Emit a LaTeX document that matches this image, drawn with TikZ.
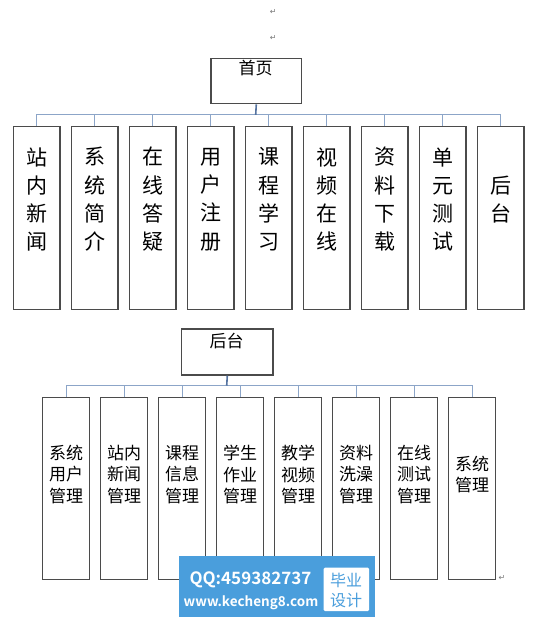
\documentclass[tikz,border=0pt]{standalone}
\usepackage{fontspec}
\newfontfamily\cjk{Noto Sans CJK SC}[BoldFont={Noto Sans CJK SC Bold}]
\newfontfamily\symf{DejaVu Sans}
\definecolor{boxc}{RGB}{75,75,75}
\definecolor{connc}{RGB}{140,165,200}
\definecolor{stubc}{RGB}{85,115,160}
\definecolor{wmblue}{RGB}{74,158,220}
\definecolor{markc}{RGB}{120,120,120}
\begin{document}
\begin{tikzpicture}[x=1pt,y=-1pt,
  headbox/.style={draw=boxc,line width=1.3pt,minimum width=90.7pt,minimum height=45.3pt,anchor=north west,inner sep=0pt},
  topbox/.style={draw=boxc,line width=1.3pt,minimum width=46.7pt,minimum height=182.6pt,anchor=north,inner sep=0pt},
  botbox/.style={draw=boxc,line width=1.3pt,minimum width=46.7pt,minimum height=182.3pt,anchor=north,inner sep=0pt},
  toptext/.style={align=center,inner sep=0pt,font=\cjk\fontsize{21}{28.3}\selectfont},
  bottext/.style={align=center,inner sep=0pt,font=\cjk\fontsize{17}{21.7}\selectfont},
  headtext/.style={inner sep=0pt,font=\cjk\fontsize{17}{20}\selectfont},
  conn/.style={draw=connc,line width=1pt},
  stub/.style={draw=stubc,line width=1.6pt},
  retmark/.style={inner sep=0pt,text=markc,font=\symf\fontsize{8}{8}\selectfont}
]
\useasboundingbox (0,0) rectangle (558,622);

% paragraph marks
\node[retmark] (r1) at (273.3,12.3) {↵};
\node[retmark] (r2) at (273.3,38.3) {↵};
\node[retmark] (r3) at (502,577.7) {↵};

% top level
\node[headbox] (home) at (210.3,57.7) {};
\node[headtext] (homet) at (255.7,68.3) {首页};
\coordinate (busA) at (255.7,114.8);

\foreach \i/\t in {1/{站\\内\\新\\闻},2/{系\\统\\简\\介},3/{在\\线\\答\\疑},4/{用\\户\\注\\册},5/{课\\程\\学\\习},6/{视\\频\\在\\线},7/{资\\料\\下\\载},8/{单\\元\\测\\试},9/{后\\台}}{
  \node[topbox] (c\i) at ({36.7+58*(\i-1)},126) {};
  \node[toptext] (ct\i) at ({36.7+58*(\i-1)},199.5) {\t};
}
\draw[conn] (c1.north) |- (c9.north |- busA) -- (c9.north);
\foreach \i in {2,...,8}{
  \draw[conn] (c\i.north) -- (c\i.north |- busA);
}
\draw[stub] (home.south) -- (busA);

% back end
\node[headbox,minimum width=91.3pt,minimum height=46pt] (back) at (181,328.3) {};
\node[headtext] (backt) at (226.7,341) {后台};
\coordinate (busB) at (226.7,385.7);

\foreach \i/\t in {1/{系统\\用户\\管理},2/{站内\\新闻\\管理},3/{课程\\信息\\管理},4/{学生\\作业\\管理},5/{教学\\视频\\管理},6/{资料\\洗澡\\管理},7/{在线\\测试\\管理},8/{系统\\管理}}{
  \node[botbox] (b\i) at ({66+58*(\i-1)},396.7) {};
  \node[bottext] (bt\i) at ({66+58*(\i-1)},474.5) {\t};
}
\draw[conn] (b1.north) |- (b8.north |- busB) -- (b8.north);
\foreach \i in {2,...,7}{
  \draw[conn] (b\i.north) -- (b\i.north |- busB);
}
\draw[stub] (back.south) -- (busB);

% watermark
\node[fill=wmblue,minimum width=196pt,minimum height=61pt,anchor=north west,inner sep=0pt] (wm) at (179,556) {};
\node[fill=white,rounded corners=1.5pt,minimum width=45.7pt,minimum height=43.7pt,anchor=north west,inner sep=0pt] (wmw) at (323.3,567.3) {};
\node[inner sep=0pt,text=white,font=\cjk\bfseries\fontsize{17}{17}\selectfont] (qq) at (250.5,579.5) {QQ:459382737};
\node[inner sep=0pt,text=white,font=\cjk\bfseries\fontsize{13.5}{13.5}\selectfont] (www) at (251,602.5) {www.kecheng8.com};
\node[inner sep=0pt,text=wmblue,font=\cjk\fontsize{16}{16}\selectfont] (by) at (346,580) {毕业};
\node[inner sep=0pt,text=wmblue,font=\cjk\fontsize{16}{16}\selectfont] (sj) at (346,600) {设计};
\end{tikzpicture}
\end{document}
